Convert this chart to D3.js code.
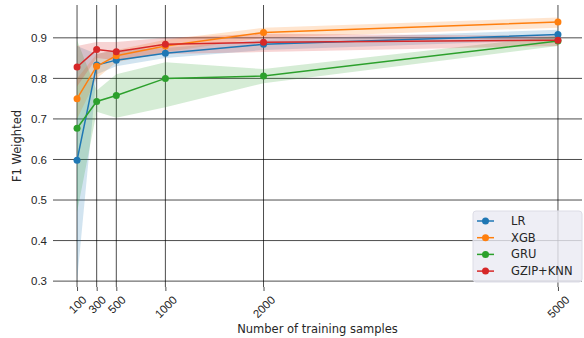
<!DOCTYPE html>
<html>
<head>
<meta charset="utf-8">
<script src="https://cdn.jsdelivr.net/npm/d3@7"></script>
<style>
  body { margin: 0; background: #fff; }
  svg { font-family: "DejaVu Sans", sans-serif; }
</style>
</head>
<body>
<div id="chart"></div>
<script>
var sizes = [100, 300, 500, 1000, 2000, 5000];
var xTicks = [100, 300, 500, 1000, 2000, 5000];
var yTicks = [0.3, 0.4, 0.5, 0.6, 0.7, 0.8, 0.9];
var models = ["LR", "XGB", "GRU", "GZIP+KNN"];
var colors = ["#1f77b4", "#ff7f0e", "#2ca02c", "#d62728"];

var lrMean = [0.598, 0.833, 0.845, 0.862, 0.884, 0.908];
var lrLow = [0.30, 0.81, 0.83, 0.85, 0.87, 0.895];
var lrHigh = [0.88, 0.86, 0.87, 0.875, 0.895, 0.92];

var xgbMean = [0.750, 0.830, 0.856, 0.880, 0.913, 0.939];
var xgbLow = [0.70, 0.80, 0.84, 0.865, 0.90, 0.925];
var xgbHigh = [0.80, 0.86, 0.87, 0.895, 0.925, 0.95];

var gruMean = [0.677, 0.743, 0.758, 0.800, 0.806, 0.892];
var gruLow = [0.47, 0.718, 0.703, 0.729, 0.788, 0.88];
var gruHigh = [0.894, 0.77, 0.81, 0.84, 0.823, 0.905];

var gzipMean = [0.828, 0.871, 0.866, 0.884, 0.889, 0.894];
var gzipLow = [0.78, 0.85, 0.845, 0.86, 0.865, 0.88];
var gzipHigh = [0.88, 0.89, 0.89, 0.90, 0.91, 0.905];

var series = [
  { name: models[0], mean: lrMean, low: lrLow, high: lrHigh },
  { name: models[1], mean: xgbMean, low: xgbLow, high: xgbHigh },
  { name: models[2], mean: gruMean, low: gruLow, high: gruHigh },
  { name: models[3], mean: gzipMean, low: gzipLow, high: gzipHigh }
];

var width = 584, height = 338;
var margin = { top: 5, right: 2, bottom: 51, left: 53 };
var fontSize = "11.5px";

var svg = d3.select("#chart").append("svg").attr("width", width).attr("height", height);

var x = d3.scaleLinear().domain([-145, 5245]).range([margin.left, width - margin.right]);
var y = d3.scaleLinear().domain([0.2855, 0.981]).range([height - margin.bottom, margin.top]);

// grid
var grid = svg.append("g").attr("stroke", "#000").attr("stroke-opacity", 0.7).attr("stroke-width", 1);
grid.selectAll("line.h").data(yTicks).enter().append("line")
  .attr("x1", margin.left).attr("x2", width - margin.right)
  .attr("y1", function (d) { return y(d); }).attr("y2", function (d) { return y(d); });
grid.selectAll("line.v").data(xTicks).enter().append("line")
  .attr("y1", margin.top).attr("y2", height - margin.bottom)
  .attr("x1", function (d) { return x(d); }).attr("x2", function (d) { return x(d); });

// bands
var area = d3.area()
  .x(function (d, i) { return x(sizes[i]); })
  .y0(function (d) { return y(d[0]); })
  .y1(function (d) { return y(d[1]); });
svg.append("g").selectAll("path").data(series).enter().append("path")
  .attr("d", function (s) { return area(s.low.map(function (l, i) { return [l, s.high[i]]; })); })
  .attr("fill", function (s, i) { return colors[i]; })
  .attr("fill-opacity", 0.2);

// lines + markers
var line = d3.line().x(function (d, i) { return x(sizes[i]); }).y(function (d) { return y(d); });
var lines = svg.append("g").selectAll("g").data(series).enter().append("g")
  .attr("fill", function (s, i) { return colors[i]; })
  .attr("stroke", function (s, i) { return colors[i]; });
lines.append("path").attr("d", function (s) { return line(s.mean); })
  .attr("fill", "none").attr("stroke-width", 1.5);
lines.selectAll("circle").data(function (s) { return s.mean; }).enter().append("circle")
  .attr("cx", function (d, i) { return x(sizes[i]); })
  .attr("cy", function (d) { return y(d); })
  .attr("r", 3.5).attr("stroke", "none");

// axes
var yAxis = svg.append("g").attr("transform", "translate(" + margin.left + ",0)")
  .call(d3.axisLeft(y).tickValues(yTicks).tickSize(0).tickPadding(6).tickFormat(d3.format(".1f")));
yAxis.select(".domain").remove();
yAxis.selectAll("text").attr("fill", "#262626").style("font-size", fontSize);

var xAxis = svg.append("g").attr("transform", "translate(0," + (height - margin.bottom) + ")")
  .call(d3.axisBottom(x).tickValues(xTicks).tickSize(4).tickFormat(d3.format("d")));
xAxis.select(".domain").remove();
xAxis.selectAll("line").attr("stroke", "#000").attr("stroke-opacity", 0.7);
// matplotlib style rotation=45: rotated box centred under the tick
xAxis.selectAll("text")
  .attr("fill", "#262626").style("font-size", fontSize)
  .attr("text-anchor", "middle")
  .attr("dy", "0.35em")
  .attr("y", 0)
  .attr("transform", function () {
    var w = this.getComputedTextLength();
    var half = (w + 11) * Math.SQRT1_2 / 2;
    return "translate(0," + (7 + half) + ") rotate(-45)";
  });

svg.append("text").attr("x", (margin.left + width - margin.right) / 2).attr("y", height - 5)
  .attr("text-anchor", "middle").attr("fill", "#262626").style("font-size", fontSize)
  .text("Number of training samples");
svg.append("text").attr("transform", "translate(21," + ((margin.top + height - margin.bottom) / 2) + ") rotate(-90)")
  .attr("text-anchor", "middle").attr("fill", "#262626").style("font-size", fontSize)
  .text("F1 Weighted");

// legend
var legend = svg.append("g").attr("transform", "translate(473,211)");
legend.append("rect").attr("width", 109).attr("height", 71).attr("rx", 3)
  .attr("fill", "#eaeaf2").attr("fill-opacity", 0.8).attr("stroke", "#dcdce6");
var item = legend.selectAll("g").data(models).enter().append("g")
  .attr("transform", function (d, i) { return "translate(0," + (10 + i * 16.7) + ")"; });
item.append("line").attr("x1", 4).attr("x2", 21)
  .attr("stroke", function (d, i) { return colors[i]; }).attr("stroke-width", 1.5);
item.append("circle").attr("cx", 12.5).attr("r", 3.5).attr("fill", function (d, i) { return colors[i]; });
item.append("text").attr("x", 38).attr("dy", "0.35em").attr("fill", "#262626")
  .style("font-size", "11.5px").text(function (d) { return d; });
</script>
</body>
</html>
